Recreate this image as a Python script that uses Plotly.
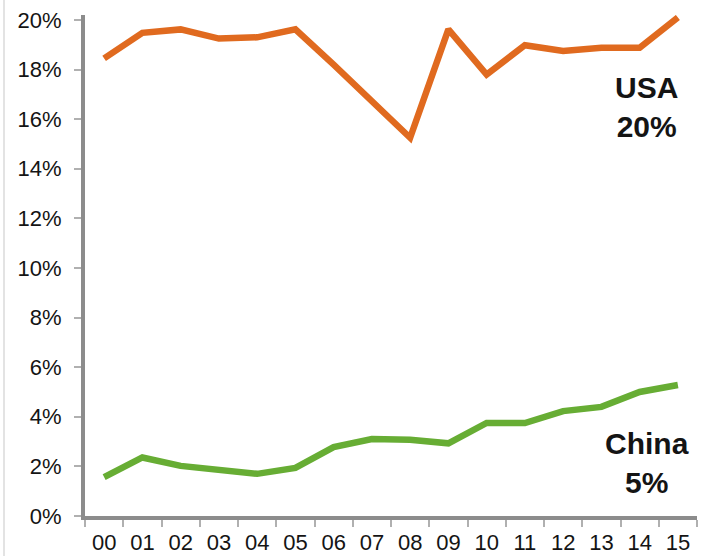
import plotly.graph_objects as go

# Years (two-digit labels) and shares of the total, in percent
years = ["00", "01", "02", "03", "04", "05", "06", "07",
         "08", "09", "10", "11", "12", "13", "14", "15"]
usa = [18.45, 19.48, 19.62, 19.25, 19.3, 19.62, 18.2, 16.7,
       15.25, 19.62, 17.8, 18.98, 18.75, 18.88, 18.88, 20.1]
china = [1.57, 2.36, 2.02, 1.85, 1.7, 1.94, 2.78, 3.1,
         3.07, 2.93, 3.75, 3.75, 4.23, 4.4, 5.0, 5.28]
y_ticks = [0, 2, 4, 6, 8, 10, 12, 14, 16, 18, 20]
y_tick_labels = [f"{v}%" for v in y_ticks]

ORANGE = "#E06A1F"
GREEN = "#67AD34"
AXIS = "#8c8c8c"
TEXT = "#141414"
FONT = "Liberation Sans, Arial, sans-serif"

fig = go.Figure()
fig.add_trace(go.Scatter(x=years, y=usa, mode="lines", name="USA",
                         line=dict(color=ORANGE, width=6.5)))
fig.add_trace(go.Scatter(x=years, y=china, mode="lines", name="China",
                         line=dict(color=GREEN, width=6.5)))

fig.update_layout(
    width=702, height=556,
    margin=dict(l=85, r=5, t=15, b=40),
    paper_bgcolor="white", plot_bgcolor="white",
    showlegend=False,
    font=dict(family=FONT, color=TEXT, size=22),
    xaxis=dict(
        type="category", range=[-0.5, 15.5], automargin=False,
        showgrid=False, zeroline=False,
        showline=True, linecolor=AXIS, linewidth=4,
        ticks="outside", tickson="boundaries",
        ticklen=7, tickwidth=2, tickcolor="#b0b0b0",
        tickfont=dict(size=22, family=FONT, color=TEXT),
        ticklabelstandoff=4,
    ),
    yaxis=dict(
        range=[0, 20.2], automargin=False,
        tickmode="array", tickvals=y_ticks, ticktext=y_tick_labels,
        showgrid=False, zeroline=False,
        showline=True, linecolor=AXIS, linewidth=4,
        ticks="outside", ticklen=7, tickwidth=2, tickcolor="#b0b0b0",
        tickfont=dict(size=22, family=FONT, color=TEXT),
        ticklabelstandoff=8,
    ),
)

# Series labels with the latest value
fig.add_annotation(xref="paper", yref="y", x=0.918, y=16.5,
                   xanchor="center", yanchor="middle",
                   text="<b>USA</b><br><b>20%</b>", showarrow=False,
                   font=dict(size=30, family=FONT, color=TEXT), align="center")
fig.add_annotation(xref="paper", yref="y", x=0.918, y=2.15,
                   xanchor="center", yanchor="middle",
                   text="<b>China</b><br><b>5%</b>", showarrow=False,
                   font=dict(size=30, family=FONT, color=TEXT), align="center")

# Faint frame line along the left edge
fig.add_shape(type="line", xref="paper", yref="paper",
              x0=-81 / 612, x1=-81 / 612, y0=-0.08, y1=1.05,
              line=dict(color="#e3e3e3", width=2))

fig.write_html("out.html")
